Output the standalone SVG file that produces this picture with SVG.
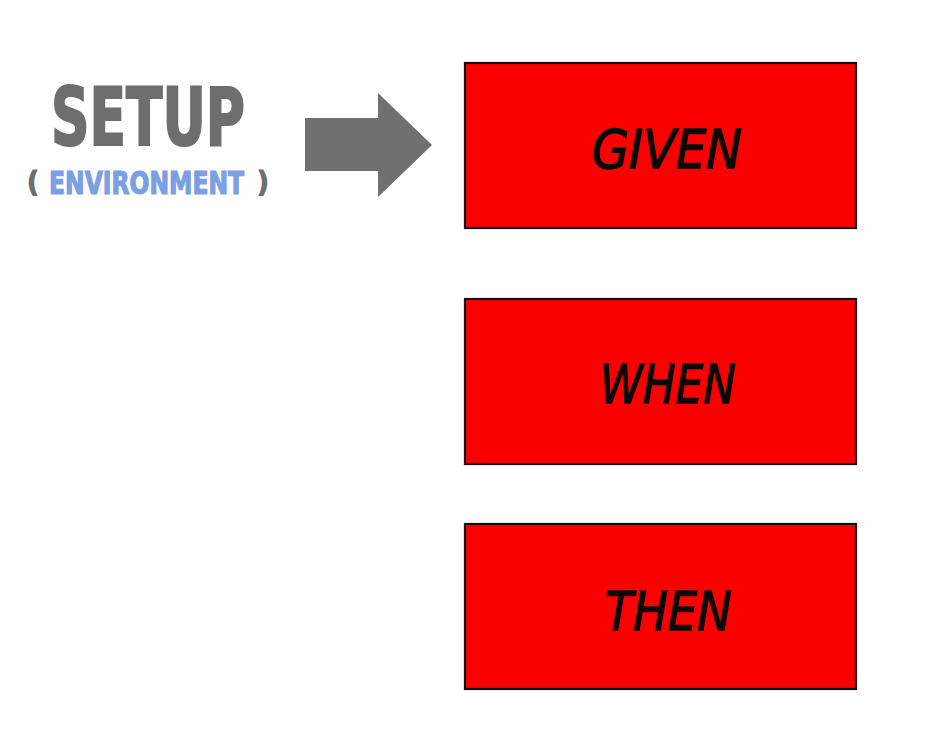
<svg xmlns="http://www.w3.org/2000/svg" width="940" height="750" viewBox="0 0 940 750">
<style>
.box{fill:#fb0000;stroke:#111;stroke-width:2.2}
.lbl{font-family:"DejaVu Sans","Liberation Sans",sans-serif;font-style:italic;font-size:54px;fill:#0a0a0a;stroke:#0a0a0a;stroke-width:1.4}
.head{font-family:"DejaVu Sans Condensed","DejaVu Sans","Liberation Sans",sans-serif;font-weight:bold}
.gray{fill:#6e6e6e;stroke:#6e6e6e}
.blue{fill:#7b9fe2;stroke:#7b9fe2}
</style>
<rect width="940" height="750" fill="#fefefe"/>
<g id="setup">
<text class="head gray" x="51" y="145" font-size="80" stroke-width="2" textLength="194" lengthAdjust="spacingAndGlyphs">SETUP</text>
<text class="head gray" x="27" y="192" font-size="29" stroke-width="1">(</text>
<text class="head blue" transform="translate(49,194) scale(1,1.17)" x="0" y="0" font-size="27" stroke-width="1" textLength="195" lengthAdjust="spacingAndGlyphs">ENVIRONMENT</text>
<text class="head gray" x="257" y="192" font-size="29" stroke-width="1">)</text>
</g>
<g id="connectors">
<polygon points="305,118 378,118 378,93 432,145 378,197 378,171 305,171" fill="#707070"/>
</g>
<g id="given">
<rect class="box" x="465" y="63" width="391" height="165"/>
<text class="lbl" x="592" y="168" textLength="150" lengthAdjust="spacingAndGlyphs">GIVEN</text>
</g>
<g id="when">
<rect class="box" x="465" y="299" width="391" height="165"/>
<text class="lbl" x="600" y="403" textLength="136" lengthAdjust="spacingAndGlyphs">WHEN</text>
</g>
<g id="then">
<rect class="box" x="465" y="524" width="391" height="165"/>
<text class="lbl" x="605" y="630" textLength="127" lengthAdjust="spacingAndGlyphs">THEN</text>
</g>
</svg>
